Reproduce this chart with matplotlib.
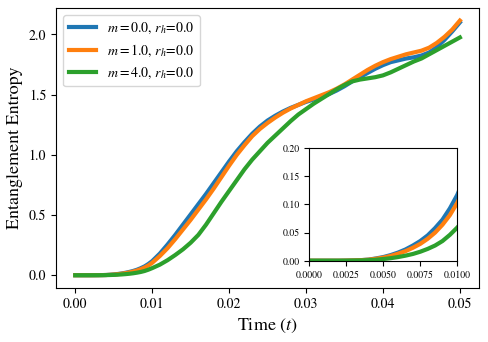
import numpy as np
import matplotlib
matplotlib.use("Agg")
import matplotlib.pyplot as plt

plt.rcParams['font.family'] = 'STIXGeneral'
plt.rcParams['mathtext.fontset'] = 'stix'

# tiempo (t): mas fino al inicio (se ve en el inset)
t = np.concatenate([np.arange(0, 0.01, 0.0005), np.arange(0.01, 0.0505, 0.001)])

# entropia de entrelazamiento
s_m0 = [0, 0, 0, 0, 0, 0.0002, 0.0005, 0.001, 0.002, 0.004,
        0.0065, 0.010, 0.0145, 0.020, 0.027, 0.035, 0.045, 0.058, 0.073, 0.093,
        0.117, 0.18, 0.255, 0.335, 0.42, 0.505, 0.59, 0.675, 0.765, 0.855,
        0.945, 1.03, 1.105, 1.175, 1.235, 1.285, 1.325, 1.36, 1.39, 1.415,
        1.44, 1.46, 1.48, 1.505, 1.535, 1.57, 1.61, 1.645, 1.68, 1.715,
        1.745, 1.77, 1.785, 1.80, 1.81, 1.825, 1.85, 1.895, 1.955, 2.025,
        2.10]

s_m1 = [0, 0, 0, 0, 0, 0.0002, 0.0005, 0.001, 0.0018, 0.0035,
        0.0055, 0.0085, 0.0125, 0.017, 0.023, 0.030, 0.039, 0.050, 0.064, 0.081,
        0.103, 0.16, 0.225, 0.30, 0.38, 0.46, 0.545, 0.63, 0.72, 0.815,
        0.91, 1.0, 1.08, 1.155, 1.215, 1.265, 1.31, 1.35, 1.385, 1.415,
        1.445, 1.47, 1.495, 1.52, 1.55, 1.585, 1.625, 1.665, 1.705, 1.74,
        1.77, 1.795, 1.815, 1.835, 1.85, 1.865, 1.89, 1.93, 1.98, 2.04,
        2.115]

s_m4 = [0, 0, 0, 0, 0, 0.0001, 0.0003, 0.0006, 0.001, 0.0018,
        0.003, 0.0045, 0.0065, 0.009, 0.012, 0.016, 0.021, 0.027, 0.035, 0.046,
        0.059, 0.088, 0.125, 0.168, 0.215, 0.27, 0.335, 0.42, 0.515, 0.61,
        0.70, 0.79, 0.88, 0.96, 1.03, 1.10, 1.16, 1.22, 1.28, 1.335,
        1.38, 1.425, 1.465, 1.505, 1.545, 1.58, 1.61, 1.625, 1.635, 1.645,
        1.66, 1.685, 1.715, 1.745, 1.775, 1.80, 1.835, 1.87, 1.905, 1.94,
        1.975]

series = [(s_m0, r'$m=0.0$, $r_h$=0.0', '#1f77b4'),
          (s_m1, r'$m=1.0$, $r_h$=0.0', '#ff7f0e'),
          (s_m4, r'$m=4.0$, $r_h$=0.0', '#2ca02c')]

fig = plt.figure(figsize=(4.88, 3.42), dpi=100)
ax = fig.add_axes([0.1148, 0.158, 0.867, 0.819])

for s, lab, c in series:
    ax.plot(t, s, color=c, lw=3, label=lab)

ax.set_xticks([0, 0.01, 0.02, 0.03, 0.04, 0.05])
ax.set_xticklabels(['0.00', '0.01', '0.02', '0.03', '0.04', '0.05'])
ax.set_yticks([0, 0.5, 1.0, 1.5, 2.0])
ax.tick_params(labelsize=10)
ax.set_xlabel(r'Time $(t)$', fontsize=13)
ax.set_ylabel('Entanglement Entropy', fontsize=13)
ax.legend(loc='upper left', fontsize=10)

# inset con el zoom del inicio
axins = fig.add_axes([0.634, 0.2377, 0.303, 0.3287])
for s, lab, c in series:
    axins.plot(t, s, color=c, lw=3)
axins.set_xlim(0, 0.01)
axins.set_ylim(0, 0.2)
axins.set_xticks([0, 0.0025, 0.005, 0.0075, 0.01])
axins.set_xticklabels(['0.0000', '0.0025', '0.0050', '0.0075', '0.0100'])
axins.set_yticks([0, 0.05, 0.1, 0.15, 0.2])
axins.set_yticklabels(['0.00', '0.05', '0.10', '0.15', '0.20'])
axins.tick_params(labelsize=7)

fig.savefig('out.png', dpi=100)
